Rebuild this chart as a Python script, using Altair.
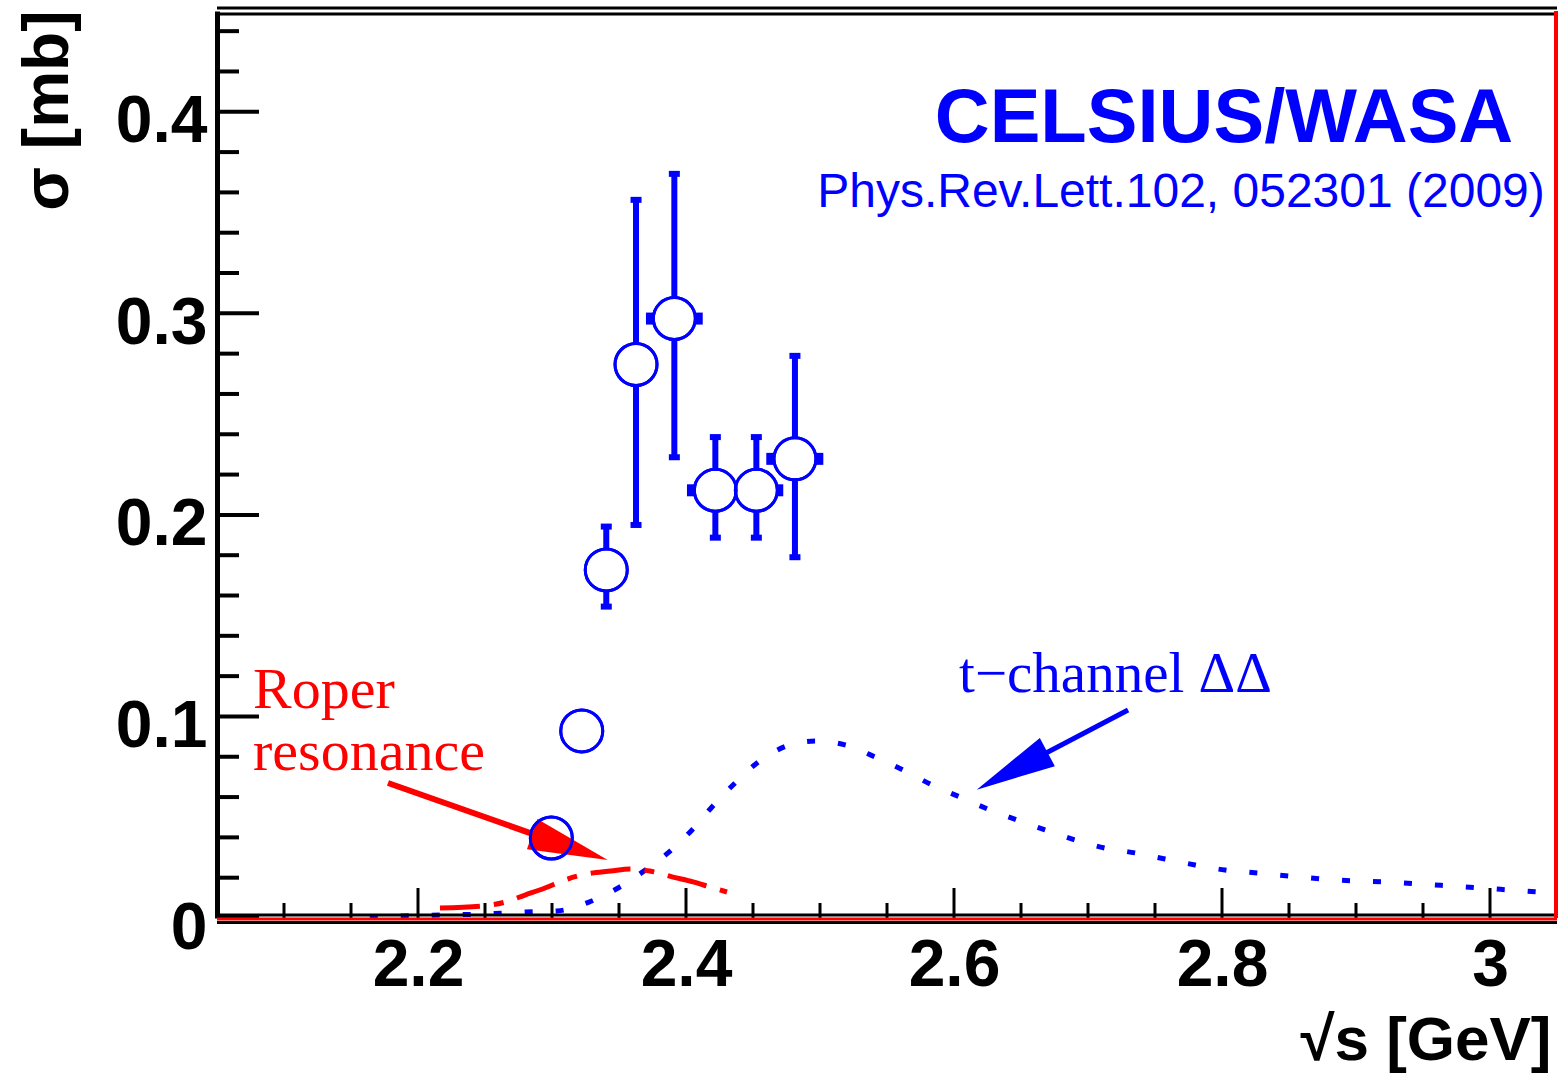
import altair as alt
import pandas as pd

# ---------------- data ----------------
# t-channel DeltaDelta curve (blue dotted)
tdd_x = [2.164, 2.19, 2.22, 2.25, 2.28, 2.3037, 2.3276, 2.3493, 2.368, 2.3866, 2.4045, 2.4194,
         2.4351, 2.453, 2.4776, 2.4963, 2.5187, 2.541, 2.5634, 2.5836, 2.6045, 2.6269, 2.647,
         2.6679, 2.6903, 2.7127, 2.735, 2.7575, 2.7799, 2.8022, 2.8269, 2.8507, 2.8746, 2.8993,
         2.9216, 2.9478, 2.9701, 2.9925, 3.0149, 3.0373, 3.05]
tdd_y = [0.0005, 0.001, 0.0015, 0.002, 0.003, 0.0035, 0.0079, 0.0149, 0.023, 0.0323, 0.0437, 0.0551,
         0.066, 0.0769, 0.0859, 0.0878, 0.0859, 0.0799, 0.0730, 0.066, 0.060, 0.0536, 0.0486,
         0.0437, 0.0387, 0.0347, 0.0323, 0.0293, 0.0263, 0.0238, 0.0223, 0.0208, 0.0194, 0.0184,
         0.0179, 0.0169, 0.0159, 0.0149, 0.0139, 0.0129, 0.0125]

# Roper resonance curve (red dashed)
roper_x = [2.2164, 2.2485, 2.265, 2.2799, 2.2948, 2.3097, 2.3254, 2.344, 2.3582, 2.3731,
           2.3903, 2.4052, 2.4179, 2.4306]
roper_y = [0.005, 0.006, 0.0079, 0.0114, 0.0149, 0.0189, 0.0218, 0.0233, 0.0243, 0.0233,
           0.0203, 0.0179, 0.0154, 0.0129]

# CELSIUS/WASA data points
pts_x = [2.2995, 2.3222, 2.3405, 2.3627, 2.3913, 2.4219, 2.4525, 2.4813]
pts_y = [0.0397, 0.0928, 0.1727, 0.2746, 0.2974, 0.2122, 0.2122, 0.2278]

# vertical error bars
vbar_x = [2.3405, 2.3627, 2.3913, 2.4219, 2.4525, 2.4813]
vbar_lo = [0.1545, 0.1950, 0.2286, 0.1887, 0.1887, 0.1790]
vbar_hi = [0.1942, 0.3563, 0.3692, 0.2386, 0.2386, 0.2789]

# horizontal error bars
hbar_y = [0.2974, 0.2122, 0.2122, 0.2278]
hbar_lo = [2.3731, 2.4037, 2.4319, 2.4629]
hbar_hi = [2.4095, 2.4388, 2.4696, 2.4995]

# axis ticks
x_major = [2.2, 2.4, 2.6, 2.8, 3.0]
x_minor = [2.1, 2.15, 2.25, 2.3, 2.35, 2.45, 2.5, 2.55, 2.65, 2.7, 2.75, 2.85, 2.9, 2.95]
y_major = [0.0, 0.1, 0.2, 0.3, 0.4]
y_minor = [0.02, 0.04, 0.06, 0.08, 0.12, 0.14, 0.16, 0.18, 0.22, 0.24, 0.26, 0.28,
           0.32, 0.34, 0.36, 0.38, 0.42, 0.44]

# annotation arrows: start -> head
red_arrow = {"x": [2.1776], "y": [0.0670], "x2": [2.3134], "y2": [0.0352]}
blue_arrow = {"x": [2.7299], "y": [0.1032], "x2": [2.6433], "y2": [0.0730]}
red_head = {"x": [2.3134], "y": [0.0352], "angle": [109]}
blue_head = {"x": [2.6433], "y": [0.0730], "angle": [242]}

# texts
title_txt = {"x": [2.8015], "y": [0.3851], "t": ["CELSIUS/WASA"]}
ref_txt = {"x": [2.7694], "y": [0.3529], "t": ["Phys.Rev.Lett.102, 052301 (2009)"]}
tdd_txt = {"x": [2.7205], "y": [0.1122], "t": ["t\u2212channel \u0394\u0394"]}
roper_txt = {"x": [2.0769, 2.0769], "y": [0.1042, 0.0734], "t": ["Roper", "resonance"]}

# frame extents
x_dom = [2.05, 3.05]
y_dom = [0.0, 0.45]

# ---------------- chart ----------------
BLUE = "#0000ff"
RED = "#ff0000"
xs = alt.Scale(domain=x_dom, nice=False, zero=False)
ys = alt.Scale(domain=y_dom, nice=False, zero=False)

x_axis = alt.Axis(values=x_major, format="~g", grid=False, ticks=False, tickSize=0,
                  domain=False, labelFont="Liberation Sans", labelFontWeight="bold",
                  labelFontSize=66, labelColor="black", labelPadding=15, labelFlush=False,
                  title="\u221as [GeV]", titleFont="Liberation Sans", titleFontWeight="bold",
                  titleFontSize=62, titleColor="black", titleAnchor="end", titleAlign="right",
                  titleBaseline="alphabetic", titleX=1334, titleY=141)
y_axis = alt.Axis(values=y_major, format="~g", grid=False, ticks=False, tickSize=0,
                  domain=True, domainColor="black", domainWidth=5,
                  labelFont="Liberation Sans", labelFontWeight="bold",
                  labelFontSize=66, labelColor="black", labelPadding=10, labelOffset=10,
                  labelFlush=False,
                  title="\u03c3 [mb]", titleFont="Liberation Sans", titleFontWeight="bold",
                  titleFontSize=64, titleColor="black", titleAngle=270, titleAlign="right",
                  titleBaseline="alphabetic", titleX=-150, titleY=-1)


def X(f):
    return alt.X(f, type="quantitative", scale=xs, axis=x_axis)


def Y(f):
    return alt.Y(f, type="quantitative", scale=ys, axis=y_axis)


tdd_df = pd.DataFrame({"x": tdd_x, "y": tdd_y})
roper_df = pd.DataFrame({"x": roper_x, "y": roper_y})
pts_df = pd.DataFrame({"x": pts_x, "y": pts_y})
vbar_df = pd.DataFrame({"x": vbar_x, "lo": vbar_lo, "hi": vbar_hi})
hbar_df = pd.DataFrame({"y": hbar_y, "lo": hbar_lo, "hi": hbar_hi})

tdd_line = alt.Chart(tdd_df).mark_line(color=BLUE, strokeWidth=5, strokeDash=[8, 23],
                                       interpolate="monotone").encode(
    x=X("x"), y=Y("y"))
roper_line = alt.Chart(roper_df).mark_line(color=RED, strokeWidth=5, strokeDash=[40, 14, 10, 14],
                                           interpolate="monotone").encode(
    x=X("x"), y=Y("y"))

vbars = alt.Chart(vbar_df).mark_rule(color=BLUE, strokeWidth=6).encode(
    x=X("x"), y=Y("lo"), y2="hi")
vcap_lo = alt.Chart(vbar_df).mark_tick(color=BLUE, size=11, thickness=6, orient="horizontal",
                                       opacity=1).encode(x=X("x"), y=Y("lo"))
vcap_hi = alt.Chart(vbar_df).mark_tick(color=BLUE, size=11, thickness=6, orient="horizontal",
                                       opacity=1).encode(x=X("x"), y=Y("hi"))
hbars = alt.Chart(hbar_df).mark_rule(color=BLUE, strokeWidth=6).encode(
    y=Y("y"), x=X("lo"), x2="hi")
hcap_lo = alt.Chart(hbar_df).mark_tick(color=BLUE, size=12, thickness=8, orient="vertical",
                                       opacity=1).encode(x=X("lo"), y=Y("y"))
hcap_hi = alt.Chart(hbar_df).mark_tick(color=BLUE, size=12, thickness=8, orient="vertical",
                                       opacity=1).encode(x=X("hi"), y=Y("y"))

circles = alt.Chart(pts_df).mark_point(shape="circle", size=1764, filled=True, fill="white",
                                       stroke=BLUE, strokeWidth=3, opacity=1).encode(
    x=X("x"), y=Y("y"))
circle_rims = alt.Chart(pts_df).mark_point(shape="circle", size=1764, filled=False,
                                           color=BLUE, strokeWidth=3, opacity=1).encode(
    x=X("x"), y=Y("y"))

head_path = "M0,-1L0.4,1L-0.4,1Z"
red_line = alt.Chart(pd.DataFrame(red_arrow)).mark_rule(color=RED, strokeWidth=6).encode(
    x=X("x"), y=Y("y"), x2="x2", y2="y2")
red_tip = alt.Chart(pd.DataFrame(red_head)).mark_point(shape=head_path, size=6400, filled=True,
                                                       color=RED, opacity=1).encode(
    x=X("x"), y=Y("y"), angle=alt.Angle("angle:Q", scale=None))
blue_line = alt.Chart(pd.DataFrame(blue_arrow)).mark_rule(color=BLUE, strokeWidth=5).encode(
    x=X("x"), y=Y("y"), x2="x2", y2="y2")
blue_tip = alt.Chart(pd.DataFrame(blue_head)).mark_point(shape=head_path, size=6400, filled=True,
                                                         color=BLUE, opacity=1).encode(
    x=X("x"), y=Y("y"), angle=alt.Angle("angle:Q", scale=None))

t_title = alt.Chart(pd.DataFrame(title_txt)).mark_text(
    font="Liberation Sans", fontWeight="bold", fontSize=76, color=BLUE, align="center",
    baseline="alphabetic").encode(x=X("x"), y=Y("y"), text="t:N")
t_ref = alt.Chart(pd.DataFrame(ref_txt)).mark_text(
    font="Liberation Sans", fontSize=48, color=BLUE, align="center",
    baseline="alphabetic").encode(x=X("x"), y=Y("y"), text="t:N")
t_tdd = alt.Chart(pd.DataFrame(tdd_txt)).mark_text(
    font="Liberation Serif", fontSize=57, color=BLUE, align="center",
    baseline="alphabetic").encode(x=X("x"), y=Y("y"), text="t:N")
t_roper = alt.Chart(pd.DataFrame(roper_txt)).mark_text(
    font="Liberation Serif", fontSize=58, color=RED, align="left",
    baseline="alphabetic").encode(x=X("x"), y=Y("y"), text="t:N")

# inward ticks
ymaj_t = alt.Chart(pd.DataFrame({"v": y_major})).mark_rule(color="black", strokeWidth=4).encode(
    y=Y("v"), x=alt.value(0), x2=alt.value(42))
ymin_t = alt.Chart(pd.DataFrame({"v": y_minor})).mark_rule(color="black", strokeWidth=4).encode(
    y=Y("v"), x=alt.value(0), x2=alt.value(22))
xmaj_t = alt.Chart(pd.DataFrame({"v": x_major})).mark_rule(color="black", strokeWidth=3).encode(
    x=X("v"), y=alt.value(907), y2=alt.value(877))
xmin_t = alt.Chart(pd.DataFrame({"v": x_minor})).mark_rule(color="black", strokeWidth=3).encode(
    x=X("v"), y=alt.value(907), y2=alt.value(892))

# frame lines
frame_df = pd.DataFrame({"x0": [x_dom[0]], "x1": [x_dom[1]], "y0": [y_dom[0]], "y1": [y_dom[1]]})
top1 = alt.Chart(frame_df).mark_rule(color="black", strokeWidth=3, yOffset=-3).encode(
    x=X("x0"), x2="x1", y=Y("y1"))
top2 = alt.Chart(frame_df).mark_rule(color="black", strokeWidth=3, yOffset=3).encode(
    x=X("x0"), x2="x1", y=Y("y1"))
bot1 = alt.Chart(frame_df).mark_rule(color="black", strokeWidth=3, yOffset=-3).encode(
    x=X("x0"), x2="x1", y=Y("y0"))
bot2 = alt.Chart(frame_df).mark_rule(color=RED, strokeWidth=3, yOffset=1).encode(
    x=X("x0"), x2="x1", y=Y("y0"))
bot3 = alt.Chart(frame_df).mark_rule(color="black", strokeWidth=3, yOffset=4.5).encode(
    x=X("x0"), x2="x1", y=Y("y0"))
right_red = alt.Chart(frame_df).mark_rule(color=RED, strokeWidth=4, xOffset=-1).encode(
    x=X("x1"), y=Y("y0"), y2="y1")

chart = alt.layer(
    tdd_line, roper_line,
    vbars, hbars, vcap_lo, vcap_hi, hcap_lo, hcap_hi,
    circles, red_line, red_tip, circle_rims, blue_line, blue_tip,
    t_title, t_ref, t_tdd, t_roper,
    ymaj_t, ymin_t, xmaj_t, xmin_t,
    top1, top2, bot1, bot2, bot3, right_red,
).properties(
    width=1340, height=907,
    padding={"left": 217, "top": 11, "right": 1, "bottom": 156},
    autosize=alt.AutoSizeParams(type="none"),
    background="white",
).configure_view(strokeWidth=0)

chart.save("out.html", embed_options={"renderer": "svg", "actions": False})
